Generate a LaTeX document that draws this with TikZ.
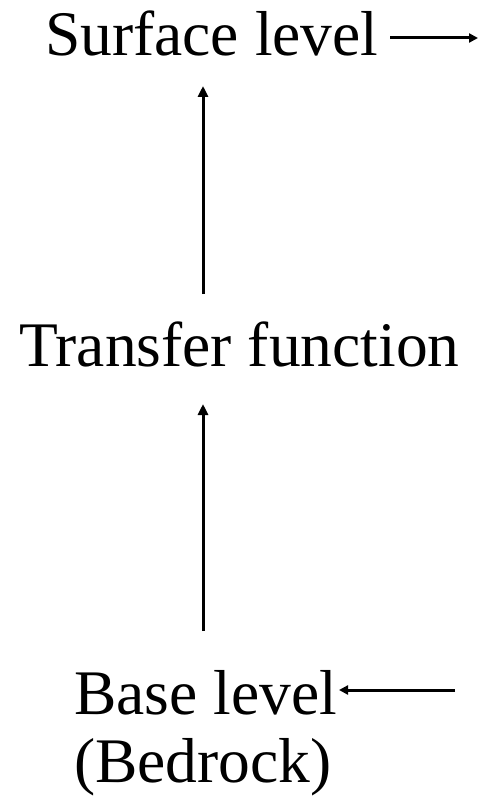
\documentclass[tikz,border=0pt]{standalone}
\usepackage{fontspec}
\setmainfont{Liberation Serif}
\usetikzlibrary{arrows.meta}
\begin{document}
\begin{tikzpicture}[x=1pt,y=-1pt,
  lbl/.style={inner sep=0pt,anchor=base west,font=\fontsize{63.5}{70}\selectfont},
  arr/.style={line width=3pt,-{Triangle[length=11pt,width=10pt]}},
  harr/.style={line width=3pt,-{Triangle[length=9pt,width=9pt]}}]
\useasboundingbox (0,0) rectangle (479,797);
\node[lbl] (surf) at (45,56) {Surface level};
\node[lbl] (trans) at (19,366) {Transfer function};
\node[lbl] (base) at (74,714) {Base level};
\node[lbl] (bed) at (74,782) {(Bedrock)};
\coordinate (s1) at (390,38);
\coordinate (s2) at (478,38);
\coordinate (t1) at (203,294);
\coordinate (t2) at (203,86);
\coordinate (b1) at (203,631);
\coordinate (b2) at (203,404);
\coordinate (e1) at (455,690);
\coordinate (e2) at (339,690);
\draw[harr] (s1) -- (s2);
\draw[arr] (t1) -- (t2);
\draw[arr] (b1) -- (b2);
\draw[harr] (e1) -- (e2);
\end{tikzpicture}
\end{document}
